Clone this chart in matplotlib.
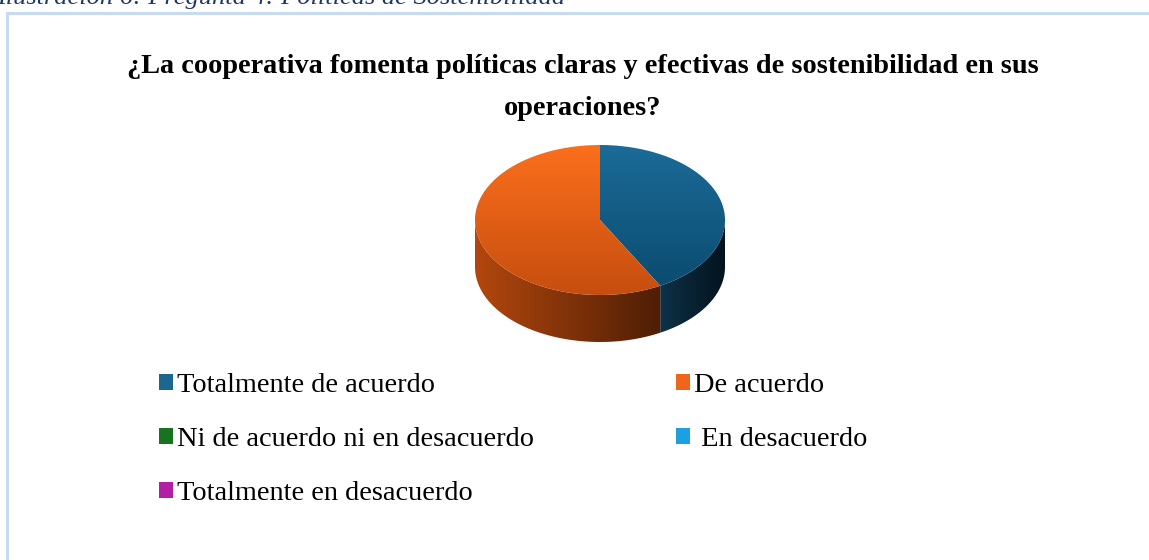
import numpy as np
import matplotlib
matplotlib.use("Agg")
import matplotlib.pyplot as plt
from matplotlib.patches import Polygon, Patch
from matplotlib.lines import Line2D
from matplotlib.colors import LinearSegmentedColormap

# ---------------- data ----------------
caption = "Ilustración 6: Pregunta 4: Políticas de Sostenibilidad"
title = "¿La cooperativa fomenta políticas claras y efectivas de sostenibilidad en sus\noperaciones?"
categories = ["Totalmente de acuerdo", "De acuerdo", "Ni de acuerdo ni en desacuerdo",
              "En desacuerdo", "Totalmente en desacuerdo"]
values = [42, 58, 0, 0, 0]
colors = ["#1D6690", "#EE661C", "#17731F", "#1BA1E2", "#B21FA3"]
# gradient colours (top face light->dark, side light->dark)
top_grad = {0: ("#1B6B98", "#0C4C70"), 1: ("#FB6F1C", "#C64E0F")}
side_grad = {0: ("#0E3247", "#03131D"), 1: ("#B3470D", "#4E1E05")}

W, H = 1149, 560
fig = plt.figure(figsize=(W / 100, H / 100), dpi=100)
fig.patch.set_facecolor("white")
ax = fig.add_axes([0, 0, 1, 1])
ax.set_xlim(0, W)
ax.set_ylim(H, 0)
ax.axis("off")

# frame of the chart area
ax.add_line(Line2D([7, 7], [13, H], color="#C6DBF1", lw=2.2, zorder=1))
ax.add_line(Line2D([7, W], [13, 13], color="#C6DBF1", lw=2.2, zorder=1))

# caption (cut by image top)
fig.text(-3 / W, 1 - 4 / H, caption, fontsize=19, style="italic",
         family="Liberation Serif", color="#1F3763", ha="left", va="baseline")

# title
fig.text(583 / W, 1 - 73 / H, title.split("\n")[0], fontsize=20.3, fontweight="bold",
         family="Liberation Serif", ha="center", va="baseline")
fig.text(583 / W, 1 - 115 / H, title.split("\n")[1], fontsize=20.3, fontweight="bold",
         family="Liberation Serif", ha="center", va="baseline")

# ---------------- 3D pie ----------------
cx, cy, a, b, depth = 600, 220, 125, 75, 47


def pt(theta_deg, dy=0.0):
    t = np.deg2rad(theta_deg)
    return cx + a * np.sin(t), cy - b * np.cos(t) + dy


def grad_fill(poly_xy, c1, c2, horizontal, zorder):
    poly = Polygon(poly_xy, closed=True, facecolor="none", edgecolor="none",
                   transform=ax.transData)
    ax.add_patch(poly)
    cmap = LinearSegmentedColormap.from_list("g", [c1, c2])
    xs, ys = poly_xy[:, 0], poly_xy[:, 1]
    grad = np.linspace(0, 1, 256)
    img = grad[None, :] if horizontal else grad[:, None]
    im = ax.imshow(img, cmap=cmap, aspect="auto", interpolation="bilinear",
                   extent=(xs.min(), xs.max(), ys.max(), ys.min()), zorder=zorder)
    im.set_clip_path(poly)


total = float(sum(values))
angles = np.cumsum([0] + [v / total * 360 for v in values])

# sides (front half 90..270)
for i, v in enumerate(values):
    if v <= 0:
        continue
    t1, t2 = angles[i], angles[i + 1]
    s1, s2 = max(t1, 90), min(t2, 270)
    if s2 <= s1:
        continue
    th = np.linspace(s1, s2, 200)
    top = np.array([pt(t) for t in th])
    bot = np.array([pt(t, depth) for t in th[::-1]])
    poly = np.vstack([top, bot])
    c1, c2 = side_grad[i]
    grad_fill(poly, c1, c2, True, 2)

# top faces
for i, v in enumerate(values):
    if v <= 0:
        continue
    t1, t2 = angles[i], angles[i + 1]
    th = np.linspace(t1, t2, 300)
    edge = np.array([pt(t) for t in th])
    poly = np.vstack([[cx, cy], edge])
    c1, c2 = top_grad[i]
    grad_fill(poly, c1, c2, False, 3)

ax.set_xlim(0, W)
ax.set_ylim(H, 0)

# ---------------- legend ----------------
order = [0, 2, 4, 1, 3]
handles = [Patch(facecolor=colors[i], edgecolor="none") for i in order]
labels = [categories[i] if i != 3 else " " + categories[i] for i in order]
fig.legend(handles, labels, loc="upper left", bbox_to_anchor=(159 / W, 1 - 373 / H),
           ncol=2, frameon=False, prop={"family": "Liberation Serif", "size": 20.4},
           handlelength=0.5, handleheight=0.5, handletextpad=0.15,
           labelspacing=1.03, columnspacing=5.0, borderpad=0, borderaxespad=0)

fig.savefig("out.png", dpi=100, facecolor="white")
